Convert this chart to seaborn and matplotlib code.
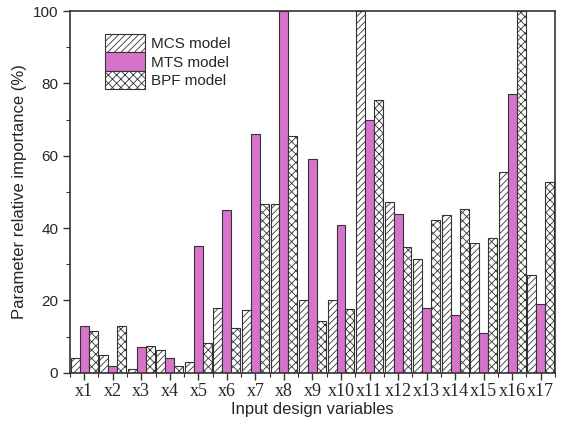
import numpy as np
import pandas as pd
import matplotlib
matplotlib.use("Agg")
import matplotlib.pyplot as plt
from matplotlib.ticker import MultipleLocator, FixedLocator
import seaborn as sns

variables = [f"x{i}" for i in range(1, 18)]
models = ["MCS model", "MTS model", "BPF model"]

mcs = [4, 5, 1, 6.4, 3, 18, 17.5, 46.8, 20, 20.2, 100, 47.3, 31.5, 43.5, 36, 55.5, 27]
mts = [13, 2, 7, 4, 35, 45, 66, 100, 59, 41, 70, 44, 18, 16, 11, 77, 19]
bpf = [11.6, 13, 7.3, 2, 8.2, 12.5, 46.8, 65.6, 14.2, 17.6, 75.4, 34.7, 42.2, 45.3, 37.2, 100, 52.7]

df = pd.DataFrame({
    "variable": variables * 3,
    "model": np.repeat(models, len(variables)),
    "importance": mcs + mts + bpf,
})

sns.set_style("ticks")
plt.rcParams["hatch.linewidth"] = 0.6
plt.rcParams["hatch.color"] = "#555555"

fig = plt.figure(figsize=(5.83, 4.29), dpi=100)
ax = fig.add_axes([0.12, 0.131, 0.832, 0.843])

palette = {"MCS model": "white", "MTS model": "#d873cc", "BPF model": "white"}
sns.barplot(data=df, x="variable", y="importance", hue="model",
            order=variables, hue_order=models, palette=palette,
            width=0.94, edgecolor="#333333", linewidth=0.8,
            saturation=1, legend=False, ax=ax)

hatches = ["/////", None, "xxxx"]
for container, hatch in zip(ax.containers, hatches):
    for bar in container:
        if hatch:
            bar.set_hatch(hatch)

ax.legend(ax.containers, models, loc="upper left",
          bbox_to_anchor=(0.06, 0.955), frameon=False,
          prop={"family": "Liberation Sans", "size": 11},
          handlelength=2.6, handleheight=1.45, handletextpad=0.4,
          labelspacing=0.05, borderaxespad=0)

ax.set_xlim(-0.5, 16.5)
ax.set_ylim(0, 100)
ax.yaxis.set_major_locator(MultipleLocator(20))
ax.yaxis.set_minor_locator(MultipleLocator(10))
ax.xaxis.set_minor_locator(FixedLocator(np.arange(-0.5, 17, 1)))

ax.tick_params(axis="both", which="major", direction="out", length=5,
               width=1, color="#333333")
ax.tick_params(axis="both", which="minor", direction="out", length=3,
               width=0.8, color="#333333")
ax.tick_params(axis="y", labelsize=11)
for lbl in ax.get_yticklabels():
    lbl.set_family("Liberation Sans")
for lbl in ax.get_xticklabels():
    lbl.set_family("Liberation Serif")
    lbl.set_fontsize(13)
ax.tick_params(axis="x", pad=2)

ax.set_xlabel("Input design variables", family="Liberation Sans",
              fontsize=12, labelpad=2)
ax.set_ylabel("Parameter relative importance (%)", family="Liberation Sans",
              fontsize=12, labelpad=4)

for side in ["top", "right", "left", "bottom"]:
    ax.spines[side].set_visible(True)
    ax.spines[side].set_linewidth(1.2)
    ax.spines[side].set_color("#333333")

fig.savefig("out.png", dpi=100)
